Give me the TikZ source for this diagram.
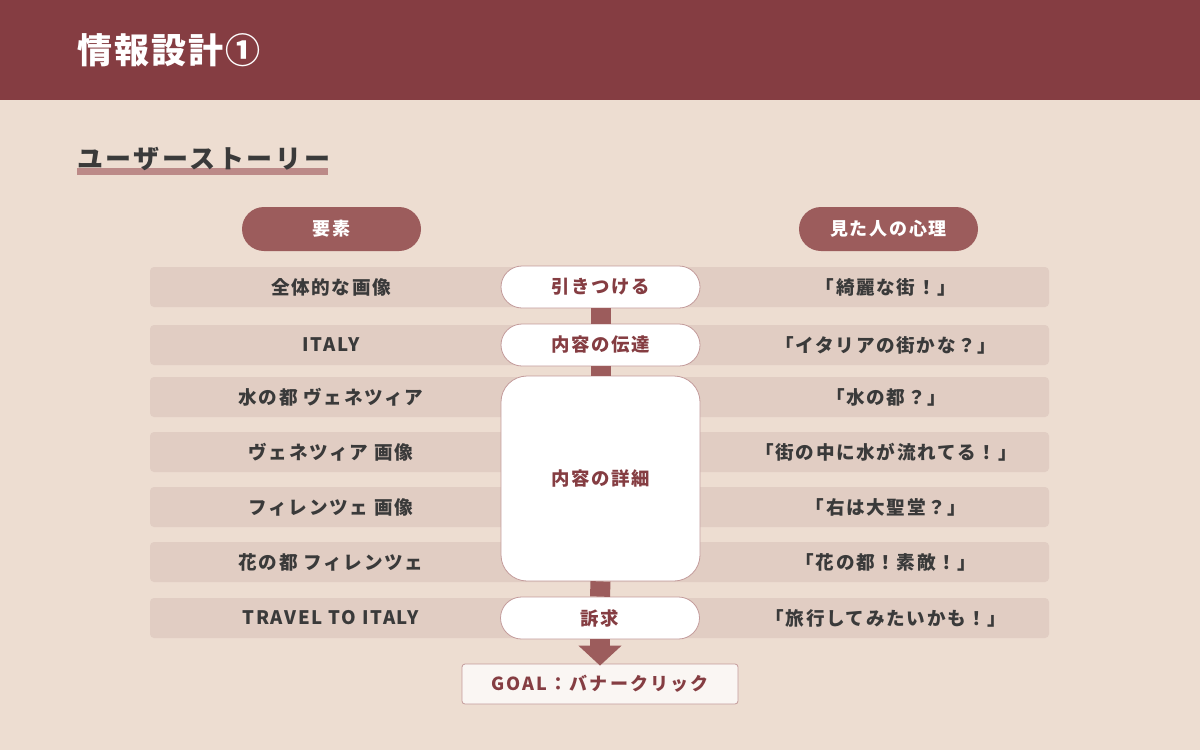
\documentclass[tikz,border=0pt]{standalone}
\usepackage{fontspec}
\setmainfont{Noto Sans CJK JP}
\usetikzlibrary{arrows.meta}
\definecolor{hdr}{HTML}{853D42}
\definecolor{bgc}{HTML}{EDDDD1}
\definecolor{rowc}{HTML}{E1CDC3}
\definecolor{pillc}{HTML}{9C5C5C}
\definecolor{ulc}{HTML}{BC8A88}
\definecolor{bordc}{HTML}{C39B9B}
\definecolor{goalc}{HTML}{FAF6F3}
\definecolor{txtc}{HTML}{3A3A3A}
\tikzset{
  rowbar/.style={fill=rowc, rounded corners=4pt, minimum width=899pt, minimum height=40pt, inner sep=0pt},
  rowtxt/.style={text=txtc, font=\fontsize{18.6}{20}\selectfont\bfseries\addfontfeatures{LetterSpace=9}, inner sep=0pt},
  headpill/.style={fill=pillc, rounded corners=22pt, minimum width=179pt, minimum height=44pt, inner sep=0pt, text=white, font=\fontsize{18}{20}\selectfont\bfseries\addfontfeatures{LetterSpace=10}},
  midpill/.style={draw=bordc, line width=0.8pt, fill=white, rounded corners=21pt, minimum width=199pt, minimum height=42pt, inner sep=0pt, text=hdr, font=\fontsize{18.4}{20}\selectfont\bfseries\addfontfeatures{LetterSpace=8}},
  link/.style={pillc, line width=20pt},
}
\begin{document}
\begin{tikzpicture}[x=1pt,y=-1pt]
\useasboundingbox (0,0) rectangle (1200,750);
\fill[bgc] (0,0) rectangle (1200,750);
\fill[hdr] (0,0) rectangle (1200,100);
\node[anchor=west, text=white, inner sep=0pt, font=\fontsize{35}{38}\selectfont\bfseries\addfontfeatures{LetterSpace=6}] (title) at (77,50) {情報設計①};
% subtitle
\fill[ulc] (77,168) rectangle (328,175);
\node[anchor=west, text=txtc, inner sep=0pt, font=\fontsize{26}{28}\selectfont\bfseries\addfontfeatures{LetterSpace=10}] (sub) at (77,158.5) {ユーザーストーリー};
% header pills
\node[headpill] (h1) at (331.5,229) {要素};
\node[headpill] (h2) at (888.5,229) {見た人の心理};
% row bars
\foreach \y/\n in {287/1,345/2,397/3,452/4,507/5,562/6,618/7}{
  \node[rowbar] (r\n) at (599.5,\y) {};
}
% left texts
\node[rowtxt] (l1) at (331,287) {全体的な画像};
\node[rowtxt] (l2) at (331,345) {ITALY};
\node[rowtxt] (l3) at (331,397) {水の都 ヴェネツィア};
\node[rowtxt] (l4) at (331,452) {ヴェネツィア 画像};
\node[rowtxt] (l5) at (331,507) {フィレンツェ 画像};
\node[rowtxt] (l6) at (331,562) {花の都 フィレンツェ};
\node[rowtxt] (l7) at (331,618) {TRAVEL TO ITALY};
% right texts
\node[rowtxt] (q1) at (886,287) {「綺麗な街！」};
\node[rowtxt] (q2) at (886,345) {「イタリアの街かな？」};
\node[rowtxt] (q3) at (886,397) {「水の都？」};
\node[rowtxt] (q4) at (886,452) {「街の中に水が流れてる！」};
\node[rowtxt] (q5) at (886,507) {「右は大聖堂？」};
\node[rowtxt] (q6) at (886,562) {「花の都！素敵！」};
\node[rowtxt] (q7) at (886,618) {「旅行してみたいかも！」};
% middle column
\node[midpill] (m1) at (600.5,287) {引きつける};
\node[midpill] (m2) at (600.5,345) {内容の伝達};
\node[midpill, rounded corners=26pt, minimum height=205pt] (m3) at (600.5,478.5) {内容の詳細};
\node[midpill] (m4) at (600,618) {訴求};
% goal
\node[draw=bordc, line width=0.8pt, fill=goalc, rounded corners=3pt, minimum width=276pt, minimum height=40pt, inner sep=0pt, text=hdr, font=\fontsize{18}{20}\selectfont\bfseries\addfontfeatures{LetterSpace=12}] (goal) at (600,684) {GOAL：バナークリック};
% connectors
\draw[link] (m1.south) -- (m2.north);
\draw[link] (m2.south) -- (m3.north);
\draw[link] (m3.south) -- (m4.north);
\draw[link, -{Triangle[width=42pt,length=20pt]}, shorten >=-2pt] (m4.south) -- (goal.north);
\end{tikzpicture}
\end{document}
